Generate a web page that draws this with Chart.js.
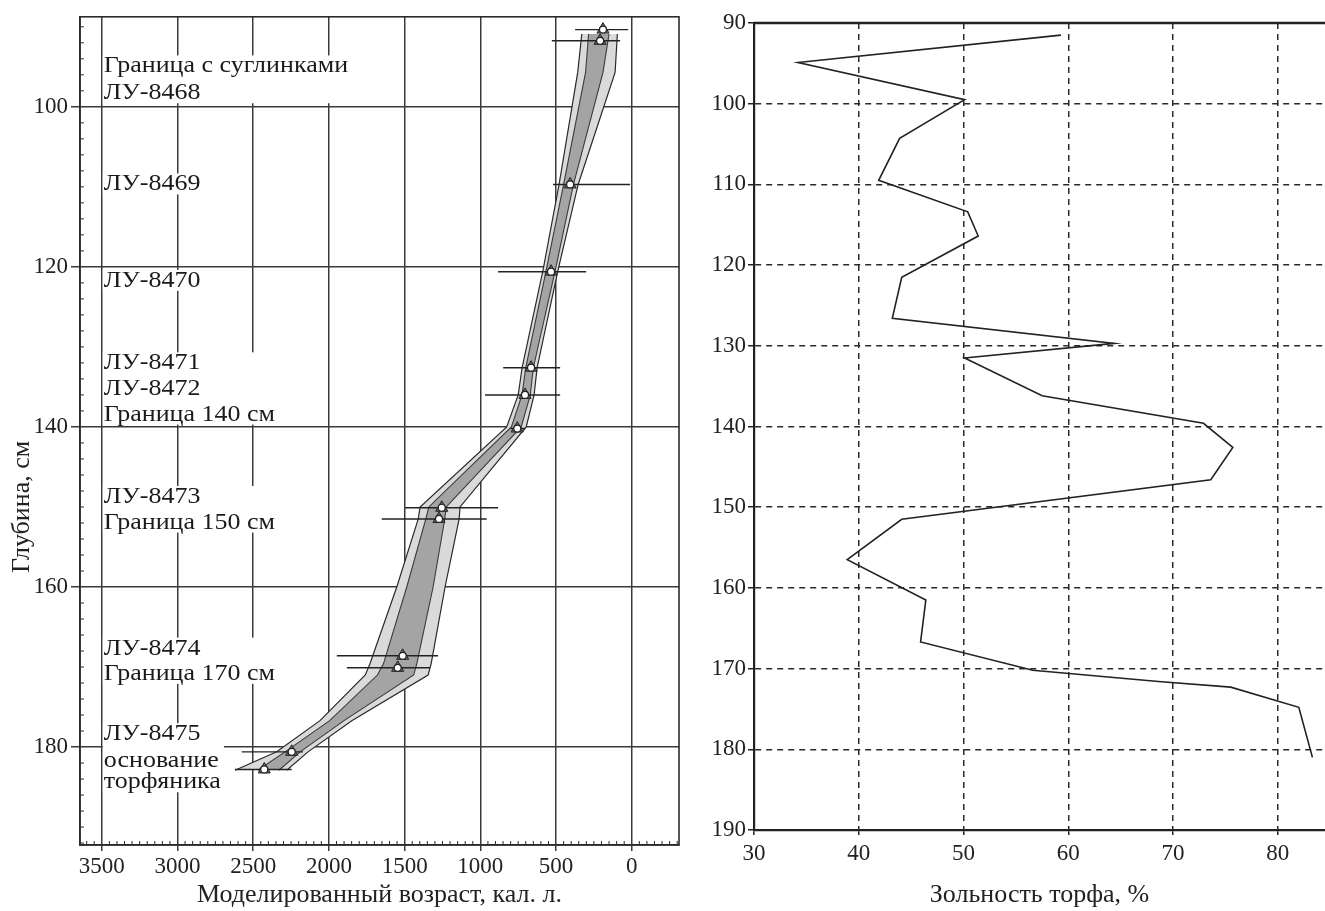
<!DOCTYPE html>
<html>
<head>
<meta charset="utf-8">
<script src="https://cdn.jsdelivr.net/npm/chart.js@4.4.1/dist/chart.umd.min.js"></script>
<style>
  html, body { margin: 0; padding: 0; background: #fff; }
  #wrap { position: relative; width: 1325px; height: 911px; }
  #leftBox { position: absolute; left: 0; top: 0; width: 690px; height: 911px; }
  #rightBox { position: absolute; left: 690px; top: 0; width: 635px; height: 911px; }
</style>
</head>
<body>
<div id="wrap">
  <div id="leftBox"><canvas id="ageChart"></canvas></div>
  <div id="rightBox"><canvas id="ashChart"></canvas></div>
</div>
<script>
// ---- left panel: age-depth model (depth, cm / modelled age, cal BP)
const modelDepth = [90.9, 95.7, 109.7, 120.4, 132.6, 136.0, 140.0, 150.0, 151.5, 160.0, 169.6, 171.0, 176.7, 180.6, 182.9];
const outerOld   = [330, 357, 480, 586, 724, 750, 826, 1398, 1410, 1552, 1729, 1760, 2059, 2345, 2620];
const innerOld   = [285, 305, 450, 565, 700, 725, 795, 1340, 1360, 1486, 1640, 1680, 1995, 2290, 2470];
const innerYoung = [150, 190, 385, 505, 650, 670, 730, 1225, 1235, 1312, 1420, 1440, 1900, 2190, 2330];
const outerYoung = [95, 110, 354, 487, 625, 645, 697, 1134, 1140, 1233, 1325, 1345, 1849, 2138, 2279];

const dateDepth = [90.35, 91.75, 109.7, 120.6, 132.6, 136.0, 140.2, 150.1, 151.5, 168.6, 170.1, 180.6, 182.8];
const dateAge   = [190, 209, 407, 533, 665, 705, 756, 1255, 1273, 1513, 1546, 2246, 2427];
const dateOld   = [374, 528, 520, 883, 849, 969, 800, 1497, 1651, 1948, 1882, 2576, 2620];
const dateYoung = [24, 77, 11, 301, 473, 473, 705, 883, 958, 1279, 1332, 2171, 2246];

const noteText = ['Граница с суглинками', 'ЛУ-8468', 'ЛУ-8469', 'ЛУ-8470', 'ЛУ-8471', 'ЛУ-8472',
  'Граница 140 см', 'ЛУ-8473', 'Граница 150 см', 'ЛУ-8474', 'Граница 170 см', 'ЛУ-8475',
  'основание', 'торфяника'];
const noteDepth = [95.7, 99.05, 110.45, 122.5, 132.8, 136.0, 139.2, 149.5, 152.7, 168.45, 171.6, 179.15, 182.5, 185.15];
const noteAge = 3500;

const depthTicks = [100, 120, 140, 160, 180];
const ageTicks = [3500, 3000, 2500, 2000, 1500, 1000, 500, 0];

// ---- right panel: peat ash content
const ashDepth = [91.5, 94.9, 99.5, 104.3, 109.5, 113.4, 116.4, 121.5, 126.6, 129.7, 131.5, 136.2, 139.6, 142.6,
  146.6, 151.5, 156.5, 161.5, 166.7, 170.2, 171.6, 172.3, 174.8, 181.0];
const ashValue = [59.3, 34.2, 50.1, 43.9, 41.9, 50.4, 51.4, 44.1, 43.2, 64.4, 50.1, 57.5, 72.9, 75.7,
  73.6, 44.1, 38.9, 46.4, 45.9, 56.6, 68.6, 75.5, 82.0, 83.3];
const ashDepthTicks = [90, 100, 110, 120, 130, 140, 150, 160, 170, 180, 190];
const ashTicks = [30, 40, 50, 60, 70, 80];

const serif = '"Liberation Serif", "Times New Roman", serif';
const ink = '#222';
const plain = v => String(v);

const pts = (ages) => modelDepth.map((d, i) => ({x: ages[i], y: d}));
const datePts = dateDepth.map((d, i) => ({x: dateAge[i], y: d}));

const errorBars = dateDepth.map((d, i) => ({
  data: [{x: dateOld[i], y: d}, {x: dateYoung[i], y: d}],
  borderColor: ink, borderWidth: 1.4, pointRadius: 0, fill: false, order: 5
}));

// frame + small inner ticks of the left panel
const ageFrame = {
  id: 'ageFrame',
  afterDatasetsDraw(chart) {
    const {ctx, chartArea: a} = chart;
    const sx = chart.scales.x, sy = chart.scales.y;
    ctx.save();
    ctx.strokeStyle = '#2b2b2b';
    ctx.lineWidth = 1.6;
    ctx.strokeRect(a.left, a.top, a.right - a.left, a.bottom - a.top);
    ctx.lineWidth = 1;
    ctx.beginPath();
    for (let d = 90; d <= 192; d += 2) {
      if (d % 20 === 0) continue;
      const y = sy.getPixelForValue(d);
      ctx.moveTo(a.left, y); ctx.lineTo(a.left + 4, y);
    }
    for (let v = -300; v <= 3600; v += 50) {
      if (v % 500 === 0) continue;
      const x = sx.getPixelForValue(v);
      ctx.moveTo(x, a.bottom); ctx.lineTo(x, a.bottom - 4);
    }
    ctx.stroke();
    // y axis title
    ctx.fillStyle = ink;
    ctx.font = '26px ' + serif;
    ctx.textAlign = 'center';
    ctx.textBaseline = 'middle';
    ctx.translate(a.left - 58, sy.getPixelForValue(150));
    ctx.rotate(-Math.PI / 2);
    ctx.fillText('Глубина, см', 0, 0);
    ctx.restore();
  }
};

// sample / boundary names with white boxes behind them
const sampleNotes = {
  id: 'sampleNotes',
  beforeDatasetsDraw(chart) {
    const {ctx} = chart;
    const sx = chart.scales.x, sy = chart.scales.y;
    const x0 = sx.getPixelForValue(noteAge) + 1;
    ctx.save();
    ctx.font = '26px ' + serif;
    ctx.textBaseline = 'alphabetic';
    // group close lines into blocks
    const blocks = [];
    noteText.forEach((t, i) => {
      const last = blocks[blocks.length - 1];
      if (last && noteDepth[i] - noteDepth[last[last.length - 1]] < 4.5) last.push(i);
      else blocks.push([i]);
    });
    blocks.forEach(b => {
      const w = Math.max(...b.map(i => ctx.measureText(noteText[i]).width));
      const yTop = sy.getPixelForValue(noteDepth[b[0]]) - 17;
      const yBot = sy.getPixelForValue(noteDepth[b[b.length - 1]]) + 4;
      ctx.fillStyle = '#fff';
      ctx.fillRect(x0, yTop, w + 4, yBot - yTop);
      ctx.fillStyle = '#1a1a1a';
      b.forEach(i => {
        ctx.save();
        ctx.translate(x0 + 1, sy.getPixelForValue(noteDepth[i]));
        ctx.scale(1, 0.88);
        ctx.fillText(noteText[i], 0, 0);
        ctx.restore();
      });
    });
    ctx.restore();
  }
};

new Chart(document.getElementById('ageChart'), {
  type: 'line',
  data: {
    datasets: [
      {data: pts(outerOld), borderColor: '#2a2a2a', borderWidth: 1.2, pointRadius: 0, fill: false, order: 10},
      {data: pts(outerYoung), borderColor: '#2a2a2a', borderWidth: 1.2, pointRadius: 0, fill: '-1', backgroundColor: '#dadada', order: 10},
      {data: pts(innerOld), borderColor: '#3a3a3a', borderWidth: 1.1, pointRadius: 0, fill: false, order: 9},
      {data: pts(innerYoung), borderColor: '#3a3a3a', borderWidth: 1.1, pointRadius: 0, fill: '-1', backgroundColor: '#a4a4a4', order: 9},
      ...errorBars,
      {data: datePts, showLine: false, pointStyle: 'triangle', pointRadius: 7, pointBackgroundColor: '#6e6e6e',
        pointBorderColor: ink, pointBorderWidth: 1, order: 2},
      {data: datePts, showLine: false, pointStyle: 'circle', pointRadius: 3.5, pointBackgroundColor: '#fff',
        pointBorderColor: ink, pointBorderWidth: 1.2, order: 1}
    ]
  },
  options: {
    indexAxis: 'y',
    responsive: true,
    maintainAspectRatio: false,
    animation: false,
    layout: {padding: {left: 0, right: 11, top: 14, bottom: 0}},
    plugins: {legend: {display: false}, tooltip: {enabled: false}},
    elements: {line: {tension: 0}},
    scales: {
      x: {
        type: 'linear', reverse: true, min: -312, max: 3644,
        afterBuildTicks: s => { s.ticks = ageTicks.map(v => ({value: v})); },
        afterFit: s => { s.height = 66; },
        ticks: {color: ink, font: {family: serif, size: 23}, padding: 2, maxRotation: 0, autoSkip: false, callback: plain},
        grid: {color: '#3a3a3a', lineWidth: 1.5, tickLength: 6},
        border: {color: '#2b2b2b', width: 1.6},
        title: {display: true, text: 'Моделированный возраст, кал. л.', color: ink,
          font: {family: serif, size: 26}, padding: {top: 0, bottom: 0}}
      },
      y: {
        type: 'linear', reverse: true, min: 88.75, max: 192.24,
        afterBuildTicks: s => { s.ticks = depthTicks.map(v => ({value: v})); },
        afterFit: s => { s.width = 80; },
        ticks: {color: ink, font: {family: serif, size: 23}, padding: 3, callback: plain},
        grid: {color: '#3a3a3a', lineWidth: 1.5, tickLength: 9},
        border: {color: '#2b2b2b', width: 1.6}
      }
    }
  },
  plugins: [sampleNotes, ageFrame]
});

// thick top line of the right panel
const ashFrame = {
  id: 'ashFrame',
  afterDatasetsDraw(chart) {
    const {ctx, chartArea: a} = chart;
    ctx.save();
    ctx.strokeStyle = ink;
    ctx.lineWidth = 2.5;
    ctx.beginPath();
    ctx.moveTo(a.left, a.top); ctx.lineTo(a.right, a.top);
    ctx.stroke();
    ctx.restore();
  }
};

new Chart(document.getElementById('ashChart'), {
  type: 'line',
  data: {
    datasets: [{
      data: ashDepth.map((d, i) => ({x: ashValue[i], y: d})),
      borderColor: ink, borderWidth: 1.6, pointRadius: 0, fill: false, tension: 0
    }]
  },
  options: {
    indexAxis: 'y',
    responsive: true,
    maintainAspectRatio: false,
    animation: false,
    layout: {padding: {left: 0, right: 0, top: 23, bottom: 0}},
    plugins: {legend: {display: false}, tooltip: {enabled: false}},
    scales: {
      x: {
        type: 'linear', min: 30, max: 84.5,
        afterBuildTicks: s => { s.ticks = ashTicks.map(v => ({value: v})); },
        afterFit: s => { s.height = 81; },
        ticks: {color: ink, font: {family: serif, size: 23}, padding: 5, maxRotation: 0, autoSkip: false, callback: plain},
        grid: {color: c => (c.tick && c.tick.value === 30) ? 'rgba(0,0,0,0)' : '#2a2a2a',
          lineWidth: 1.5, tickLength: 5, tickColor: ink},
        border: {color: ink, width: 2.2, dash: [6, 5]},
        title: {display: true, text: 'Зольность торфа, %', color: ink,
          font: {family: serif, size: 26}, padding: {top: 0, bottom: 0}}
      },
      y: {
        type: 'linear', reverse: true, min: 90, max: 190,
        afterBuildTicks: s => { s.ticks = ashDepthTicks.map(v => ({value: v})); },
        afterFit: s => { s.width = 64; },
        ticks: {color: ink, font: {family: serif, size: 23}, padding: 2, callback: plain},
        grid: {color: c => (c.tick && (c.tick.value === 90 || c.tick.value === 190)) ? 'rgba(0,0,0,0)' : '#2a2a2a',
          lineWidth: 1.5, tickLength: 6, tickColor: ink},
        border: {color: ink, width: 2.2, dash: [6, 5]}
      }
    }
  },
  plugins: [ashFrame]
});
</script>
</body>
</html>
